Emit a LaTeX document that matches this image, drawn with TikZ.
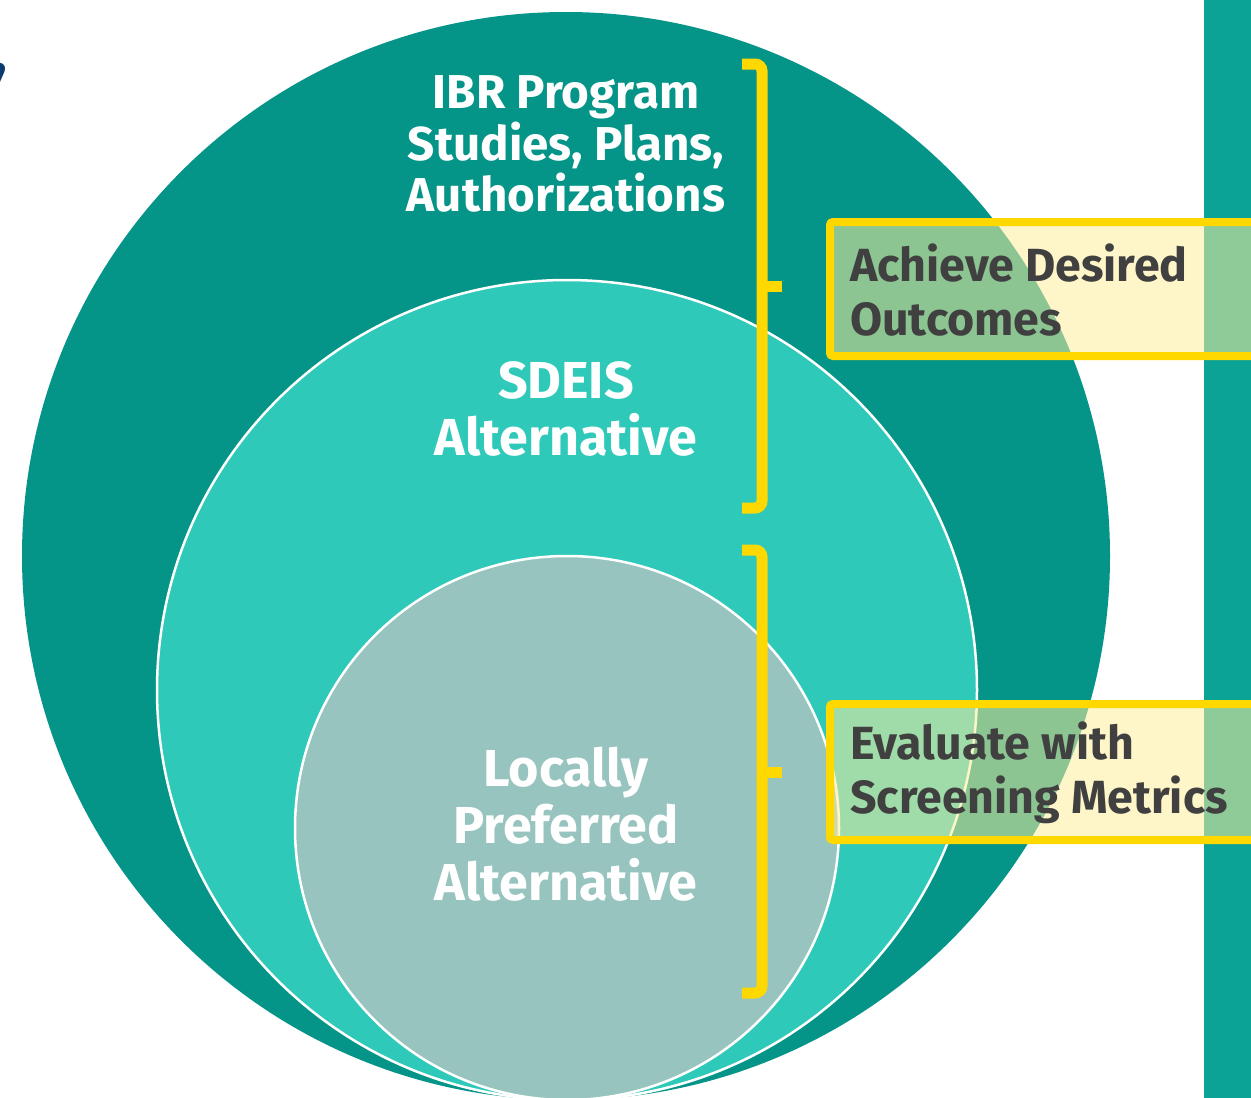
\documentclass[tikz,border=0pt]{standalone}
\usepackage{fontspec}
\setsansfont{Fira Sans}
\renewcommand{\familydefault}{\sfdefault}

\definecolor{outerteal}{HTML}{049488}
\definecolor{midteal}{HTML}{2FC9B9}
\definecolor{innerteal}{HTML}{97C4BE}
\definecolor{barteal}{HTML}{0AA396}
\definecolor{brightyellow}{HTML}{FFD800}
\definecolor{paleyellow}{RGB}{253,237,156}
\definecolor{labelgray}{HTML}{404040}
\definecolor{navyblue}{HTML}{0B3A6E}

\begin{document}
\begin{tikzpicture}[x=1pt, y=-1pt,
  every node/.style={font=\bfseries\fontsize{46.5}{54}\selectfont},
  ring/.style={line width=2.5pt, draw=white},
  ringtext/.style={text=white, align=center, inner sep=0pt},
  bigtext/.style={font=\bfseries\fontsize{52}{57}\selectfont},
  bkt/.style={draw=brightyellow, line width=11pt, rounded corners=7pt},
  tagbox/.style={draw=brightyellow, line width=8pt, rounded corners=3pt, fill=paleyellow, fill opacity=0.55},
  tagtext/.style={text=labelgray, align=left, anchor=west, inner sep=0pt}]
\useasboundingbox (0,0) rectangle (1251,1098);

% nested circles, all touching at the bottom
\fill[outerteal] (566,556) circle (544);
\filldraw[ring, fill=midteal] (567,690) circle (410);
\filldraw[ring, fill=innerteal] (567,828) circle (272);

% strip on the right edge
\fill[barteal] (1204,-5) rectangle (1260,1105);

% cut-off comma at the top left
\node[text=navyblue, font=\bfseries\fontsize{62}{62}\selectfont, anchor=base east, inner sep=0pt] (comma) at (8,73) {,};

% circle labels
\node[ringtext, font=\bfseries\fontsize{47.5}{51.5}\selectfont] (ibr) at (566,144) {IBR Program\\Studies, Plans,\\Authorizations};
\node[ringtext, bigtext] (sdeis) at (566,409) {SDEIS\\Alternative};
\node[ringtext, bigtext] (lpa) at (566,824) {Locally\\Preferred\\Alternative};

% brackets
\draw[bkt] (742,64) -- (762,64) -- (762,508) -- (742,508);
\draw[bkt, rounded corners=0pt] (762,286) -- (782,286);
\draw[bkt] (742,550) -- (762,550) -- (762,993) -- (742,993);
\draw[bkt, rounded corners=0pt] (762,772) -- (782,772);

% tags
\filldraw[tagbox] (830,222) rectangle (1275,356);
\filldraw[tagbox] (830,704) rectangle (1275,840);
\node[tagtext] (achieve) at (850,290) {Achieve Desired\\Outcomes};
\node[tagtext] (evaluate) at (850,773) {Evaluate with\\Screening Metrics};
\end{tikzpicture}
\end{document}
